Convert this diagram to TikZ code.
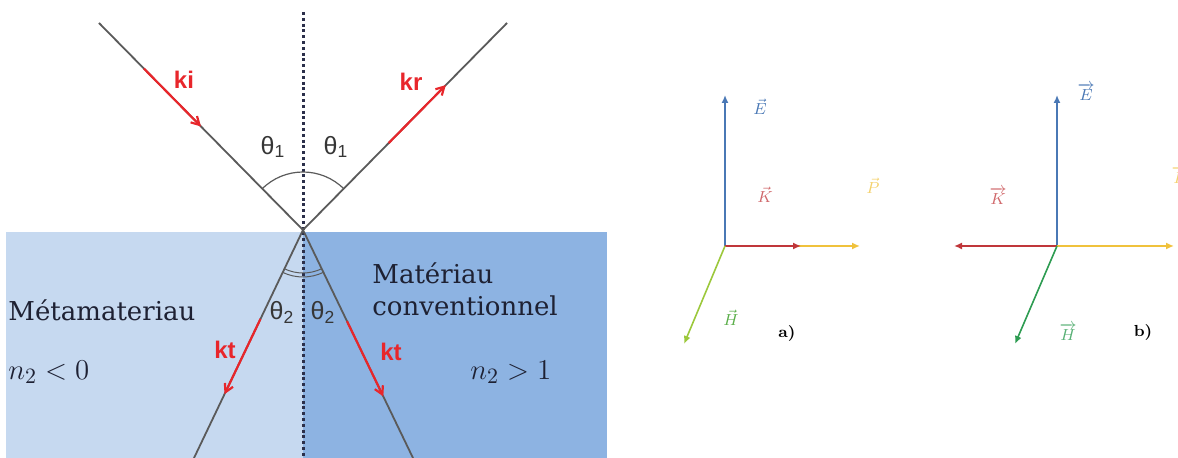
\documentclass[tikz,border=0pt]{standalone}
\usepackage{fontspec}
\usepackage{amsmath}
\usepackage{tikz}
\usetikzlibrary{
  arrows.meta,   % arrow tips
  positioning,   % relative node placement
  calc,          % points along the rays
}
\newfontfamily\raysans{Liberation Sans}
\newfontfamily\slabserif{DejaVu Serif}
\definecolor{metablue}{HTML}{C6D9F0}
\definecolor{convblue}{HTML}{8DB3E2}
\definecolor{raygray}{HTML}{5A5A5A}
\definecolor{normalnavy}{HTML}{2B2F4A}
\definecolor{wavered}{HTML}{E8262B}
\definecolor{textink}{HTML}{1E2133}
\definecolor{fieldE}{HTML}{4A78B5}
\definecolor{fieldK}{HTML}{C0363A}
\definecolor{fieldP}{HTML}{F0C23C}
\definecolor{fieldHa}{HTML}{9CC83C}
\definecolor{fieldHb}{HTML}{2E9C52}

\begin{document}
\begin{tikzpicture}[
  x=0.5pt, y=-0.5pt,
  ray/.style={raygray, line width=0.9pt},
  wave/.style={wavered, line width=1.1pt, -{Straight Barb[length=4pt, width=4.5pt]}},
  wavelabel/.style={wavered, inner sep=0pt, font=\raysans\bfseries\fontsize{12}{12}\selectfont},
  anglelabel/.style={raygray!60!black, inner sep=0pt, font=\raysans\fontsize{12.5}{12.5}\selectfont},
  medium/.style={textink, inner sep=0pt, align=left, font=\slabserif\fontsize{13}{16}\selectfont},
  index/.style={textink, inner sep=0pt, font=\fontsize{15}{15}\selectfont},
  field/.style={line width=0.8pt, -{Latex[length=4pt, width=3.5pt]}},
  fieldlabel/.style={inner sep=0pt, font=\fontsize{8}{8}\selectfont},
  panel/.style={inner sep=0pt, font=\bfseries\fontsize{8}{8}\selectfont},
]
  \useasboundingbox (0,0) rectangle (1178,458);

  % Media
  \fill[metablue] (6,232) rectangle (303,458);
  \fill[convblue] (303,232) rectangle (607,458);

  % Rays and normal
  \coordinate (O) at (303,230);
  \coordinate (Iin) at (99,23);
  \coordinate (Rout) at (507,23);
  \coordinate (Tleft) at (194,458);
  \coordinate (Tright) at (413,458);
  \coordinate (Ntop) at (303,12);
  \coordinate (Nbot) at (303,458);
  \draw[normalnavy, line width=1.5pt, dash pattern=on 1.5pt off 1.4pt] (Ntop) -- (Nbot);
  \draw[ray] (Iin) -- (O) -- (Rout);
  \draw[ray] (O) -- (Tleft);
  \draw[ray] (O) -- (Tright);

  % Angle arcs
  \draw[ray, line width=0.6pt] ($(O)+(-135:58)$) arc[start angle=-135, end angle=-45, radius=58];
  \draw[ray, line width=0.5pt] ($(O)+(64:43)$) arc[start angle=64, end angle=116, radius=43];
  \draw[ray, line width=0.5pt] ($(O)+(64:47)$) arc[start angle=64, end angle=116, radius=47];

  % Wave vectors
  \draw[wave] ($(O)!0.78!(Iin)$) -- ($(O)!0.50!(Iin)$);
  \draw[wave] ($(O)!0.42!(Rout)$) -- ($(O)!0.70!(Rout)$);
  \draw[wave] ($(O)!0.39!(Tleft)$) -- ($(O)!0.72!(Tleft)$);
  \draw[wave] ($(O)!0.40!(Tright)$) -- ($(O)!0.73!(Tright)$);
  \node[wavelabel] (ki)  at (184,80)  {ki};
  \node[wavelabel] (kr)  at (411,82)  {kr};
  \node[wavelabel] (ktl) at (225,350) {kt};
  \node[wavelabel] (ktr) at (391,352) {kt};

  % Angles
  \node[anglelabel] (th1l) at (273,147) {θ\textsubscript{1}};
  \node[anglelabel] (th1r) at (336,147) {θ\textsubscript{1}};
  \node[anglelabel] (th2l) at (282,312) {θ\textsubscript{2}};
  \node[anglelabel] (th2r) at (323,312) {θ\textsubscript{2}};

  % Media labels
  \node[medium, anchor=west] (meta) at (8,310) {Métamateriau};
  \node[medium, anchor=west] (conv) at (372,289) {Matériau\\conventionnel};
  \node[index, anchor=west] (nleft)  at (8,372)   {$n_2 < 0$};
  \node[index, anchor=west] (nright) at (470,372) {$n_2 > 1$};

  % Panel a)
  \coordinate (Oa) at (725,246);
  \coordinate (Ea) at (725,95);
  \coordinate (Ka) at (801,246);
  \coordinate (Pa) at (860,246);
  \coordinate (Ha) at (684,344);
  \draw[field, fieldE] (Oa) -- (Ea);
  \draw[field, fieldP] (Oa) -- (Pa);
  \draw[field, fieldK] (Oa) -- (Ka);
  \draw[field, fieldHa] (Oa) -- (Ha);
  \node[fieldlabel, fieldE]             (Ela) at (760,107) {$\vec{E}$};
  \node[fieldlabel, fieldK!75]          (Kla) at (765,195) {$\vec{K}$};
  \node[fieldlabel, fieldP!75]          (Pla) at (873,186) {$\vec{P}$};
  \node[fieldlabel, fieldHb!60!fieldHa] (Hla) at (731,318) {$\vec{H}$};
  \node[panel] (pa) at (787,334) {a)};

  % Panel b)
  \coordinate (Ob) at (1057,246);
  \coordinate (Eb) at (1057,95);
  \coordinate (Kb) at (954,246);
  \coordinate (Pb) at (1174,246);
  \coordinate (Hb) at (1015,344);
  \draw[field, fieldE] (Ob) -- (Eb);
  \draw[field, fieldK] (Ob) -- (Kb);
  \draw[field, fieldP] (Ob) -- (Pb);
  \draw[field, fieldHb] (Ob) -- (Hb);
  \node[fieldlabel, fieldE]     (Elb) at (1086,92)  {$\overrightarrow{E}$};
  \node[fieldlabel, fieldK!75]  (Klb) at (998,196)  {$\overrightarrow{K}$};
  \node[fieldlabel, fieldP!75]  (Plb) at (1180,175) {$\overrightarrow{P}$};
  \node[fieldlabel, fieldHb!80] (Hlb) at (1068,332) {$\overrightarrow{H}$};
  \node[panel] (pb) at (1143,333) {b)};
\end{tikzpicture}
\end{document}
